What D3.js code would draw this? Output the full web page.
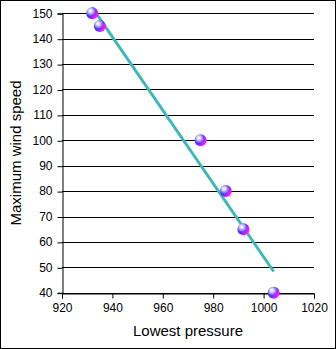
<!DOCTYPE html>
<html><head><meta charset="utf-8">
<script src="https://cdn.jsdelivr.net/npm/d3@7"></script>
<style>body{margin:0;background:#fff}svg{display:block}</style>
</head><body>
<script>
const pressure = [932, 935, 975, 985, 992, 1004];
const windSpeed = [150, 145, 100, 80, 65, 40];
const xTicks = [920, 940, 960, 980, 1000, 1020];
const yTicks = [40, 50, 60, 70, 80, 90, 100, 110, 120, 130, 140, 150];
const xTitle = "Lowest pressure";
const yTitle = "Maximum wind speed";

const W = 336, H = 349;
const svg = d3.select("body").append("svg").attr("width", W).attr("height", H);
svg.append("rect").attr("x", 0.5).attr("y", 0.5).attr("width", W - 1).attr("height", H - 1)
  .attr("fill", "#fff").attr("stroke", "#000");

const x = d3.scaleLinear().domain([920, 1020]).range([62, 314]);
const y = d3.scaleLinear().domain([40, 150]).range([292.7, 13.3]);

const defs = svg.append("defs");
const g2 = defs.append("linearGradient").attr("id", "ballBase").attr("x1", "0").attr("x2", "1").attr("y1", "0.2").attr("y2", "0.8");
g2.append("stop").attr("offset", "0%").attr("stop-color", "#2030ff");
g2.append("stop").attr("offset", "45%").attr("stop-color", "#5030ff");
g2.append("stop").attr("offset", "75%").attr("stop-color", "#d020f0");
g2.append("stop").attr("offset", "100%").attr("stop-color", "#ff30ff");
const g = defs.append("radialGradient").attr("id", "ballHi").attr("cx", "35%").attr("cy", "30%").attr("r", "45%");
g.append("stop").attr("offset", "0%").attr("stop-color", "#ffffff").attr("stop-opacity", 1);
g.append("stop").attr("offset", "35%").attr("stop-color", "#ffffff").attr("stop-opacity", 0.8);
g.append("stop").attr("offset", "100%").attr("stop-color", "#ffffff").attr("stop-opacity", 0);

// gridlines
svg.append("g").selectAll("line").data(yTicks).join("line")
  .attr("x1", x(920)).attr("x2", x(1020))
  .attr("y1", d => Math.round(y(d)) + 0.5).attr("y2", d => Math.round(y(d)) + 0.5)
  .attr("stroke", "#000").attr("stroke-width", 1);

// axes
const yAxis = d3.axisLeft(y).tickValues(yTicks).tickSize(5).tickPadding(5).tickFormat(d3.format("d"));
const ya = svg.append("g").attr("transform", "translate(" + (x(920) + 0.5) + ",0)").call(yAxis);
const xAxis = d3.axisBottom(x).tickValues(xTicks).tickSize(5).tickPadding(5).tickFormat(d3.format("d"));
const xa = svg.append("g").attr("transform", "translate(0," + (Math.round(y(40)) + 0.5) + ")").call(xAxis);
[ya, xa].forEach(a => {
  a.select(".domain").attr("stroke", "#000");
  a.selectAll(".tick line").attr("stroke", "#000");
  a.selectAll(".tick text").attr("fill", "#000").style("font-family", "'Liberation Sans', Arial, sans-serif").style("font-size", "12px");
});
ya.selectAll(".tick line").attr("transform", "translate(0,0.5)");

// regression line
const n = pressure.length;
const mx = d3.mean(pressure), my = d3.mean(windSpeed);
let sxy = 0, sxx = 0;
for (let i = 0; i < n; i++) { sxy += (pressure[i] - mx) * (windSpeed[i] - my); sxx += (pressure[i] - mx) ** 2; }
const slope = sxy / sxx, icpt = my - slope * mx;
const ext = d3.extent(pressure);
svg.append("line")
  .attr("x1", x(ext[0])).attr("y1", y(icpt + slope * ext[0]))
  .attr("x2", x(ext[1])).attr("y2", y(icpt + slope * ext[1]))
  .attr("stroke", "#40b8b8").attr("stroke-width", 3);

// points
const pts = svg.append("g").selectAll("g").data(pressure.map((p, i) => [p, windSpeed[i]])).join("g")
  .attr("transform", d => "translate(" + x(d[0]) + "," + y(d[1]) + ")");
pts.append("circle").attr("r", 6).attr("fill", "url(#ballBase)");
pts.append("circle").attr("r", 6).attr("fill", "url(#ballHi)");

// titles
svg.append("text").attr("x", (x(920) + x(1020)) / 2).attr("y", 336).attr("text-anchor", "middle")
  .style("font-family", "'Liberation Sans', Arial, sans-serif").style("font-size", "15px").text(xTitle);
svg.append("text").attr("transform", "translate(21," + ((y(40) + y(150)) / 2) + ") rotate(-90)").attr("text-anchor", "middle")
  .style("font-family", "'Liberation Sans', Arial, sans-serif").style("font-size", "15px").text(yTitle);
</script>
</body></html>
